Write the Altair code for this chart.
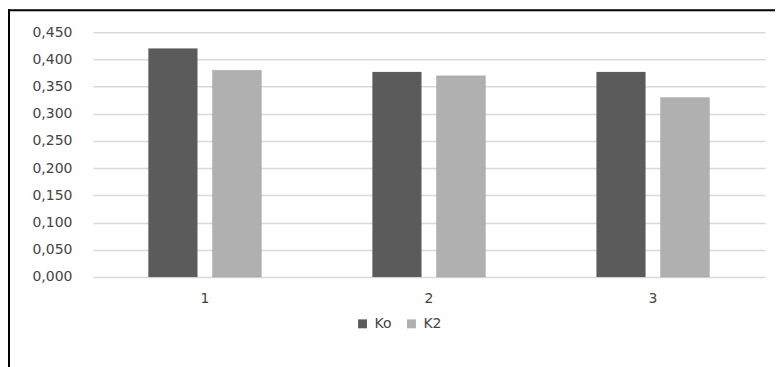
import altair as alt
import pandas as pd

groups = ["1", "2", "3"]
series = ["Ko", "K2"]
ko_values = [0.420, 0.377, 0.377]
k2_values = [0.380, 0.370, 0.330]
y_ticks = [0, 0.05, 0.1, 0.15, 0.2, 0.25, 0.3, 0.35, 0.4, 0.45]
colors = ["#5b5b5b", "#b0b0b0"]

rows = []
for g, a, b in zip(groups, ko_values, k2_values):
    rows.append({"group": g, "series": "Ko", "value": a})
    rows.append({"group": g, "series": "K2", "value": b})
df = pd.DataFrame(rows)

FONT = "DejaVu Sans"
TXT = "#444444"
FS = 14

bars = alt.Chart(df).mark_bar(stroke="#7a7a7a", strokeWidth=0.5, strokeOpacity=0.4).encode(
    x=alt.X("group:N", sort=groups, title=None,
            scale=alt.Scale(paddingInner=0, paddingOuter=0),
            axis=alt.Axis(labelAngle=0, ticks=False, domain=False, grid=False,
                          labelFont=FONT, labelFontSize=FS, labelColor=TXT,
                          labelPadding=15)),
    xOffset=alt.XOffset("series:N", sort=series,
                        scale=alt.Scale(paddingInner=0.234, paddingOuter=0.867)),
    y=alt.Y("value:Q", title=None,
            scale=alt.Scale(domain=[0, 0.45], nice=False),
            axis=alt.Axis(values=y_ticks, ticks=False, domain=False,
                          gridColor="#d9d9d9", gridWidth=1.5,
                          labelExpr="replace(format(datum.value, '.3f'), '.', ',')",
                          labelFont=FONT, labelFontSize=FS, labelColor=TXT,
                          labelPadding=21)),
    color=alt.Color("series:N", sort=series,
                    scale=alt.Scale(domain=series, range=colors),
                    legend=alt.Legend(title=None, orient="none", direction="horizontal",
                                      legendX=263, legendY=285,
                                      symbolType="square", symbolSize=80,
                                      symbolStrokeWidth=0,
                                      labelFont=FONT, labelFontSize=FS,
                                      labelColor=TXT, columnPadding=12,
                                      labelOffset=5)),
)

border_left = alt.Chart(pd.DataFrame({"k": [0]})).mark_rule(color="#000000", strokeWidth=2).encode(
    x=alt.value(-84), y=alt.value(-23), y2=alt.value(400))
border_top = alt.Chart(pd.DataFrame({"k": [0]})).mark_rule(color="#000000", strokeWidth=2).encode(
    x=alt.value(-85), x2=alt.value(720), y=alt.value(-22))

chart = alt.layer(bars, border_left, border_top).properties(
    width=673, height=245,
    background="white",
    autosize=alt.AutoSizeParams(type="none"),
    padding={"left": 85, "top": 24, "right": 10, "bottom": 110},
).configure_view(strokeWidth=0, stroke="transparent")

chart.save("out.html", embed_options={"renderer": "svg", "actions": False})
